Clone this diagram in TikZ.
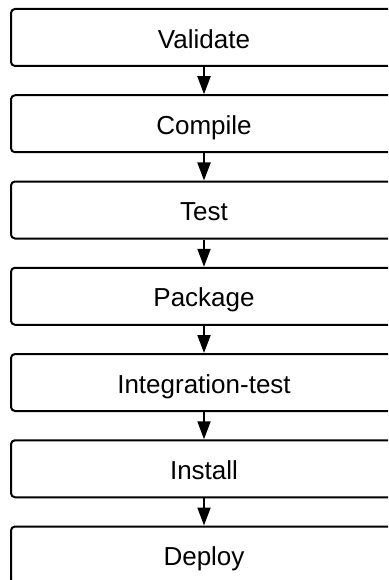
\documentclass[tikz,border=0pt]{standalone}
\usepackage{fontspec}
\setmainfont{Liberation Sans}
\usetikzlibrary{arrows.meta}
\tikzset{
  stagebox/.style={draw=black, line width=2pt, rounded corners=4pt, minimum width=386pt, minimum height=57pt, inner sep=0pt, font=\fontsize{26}{30}\selectfont, text=black, fill=white, text height=23.4pt, text depth=2.2pt},
  flowarrow/.style={draw=black, line width=2pt, -{Triangle[length=18pt,width=13pt]}}
}
\begin{document}
\begin{tikzpicture}[x=1pt,y=1pt]
\useasboundingbox (0,0) rectangle (388,-580);
\clip (0,0) rectangle (388,-580);
\node[stagebox] (n1) at (204,-37.5) {Validate};
\node[stagebox] (n2) at (204,-123.75) {Compile};
\node[stagebox] (n3) at (204,-210) {Test};
\node[stagebox] (n4) at (204,-296.25) {Package};
\node[stagebox] (n5) at (204,-382.5) {Integration-test};
\node[stagebox] (n6) at (204,-468.75) {Install};
\node[stagebox] (n7) at (204,-555) {Deploy};
\draw[flowarrow] (n1.south) -- (n2.north);
\draw[flowarrow] (n2.south) -- (n3.north);
\draw[flowarrow] (n3.south) -- (n4.north);
\draw[flowarrow] (n4.south) -- (n5.north);
\draw[flowarrow] (n5.south) -- (n6.north);
\draw[flowarrow] (n6.south) -- (n7.north);
\end{tikzpicture}
\end{document}
